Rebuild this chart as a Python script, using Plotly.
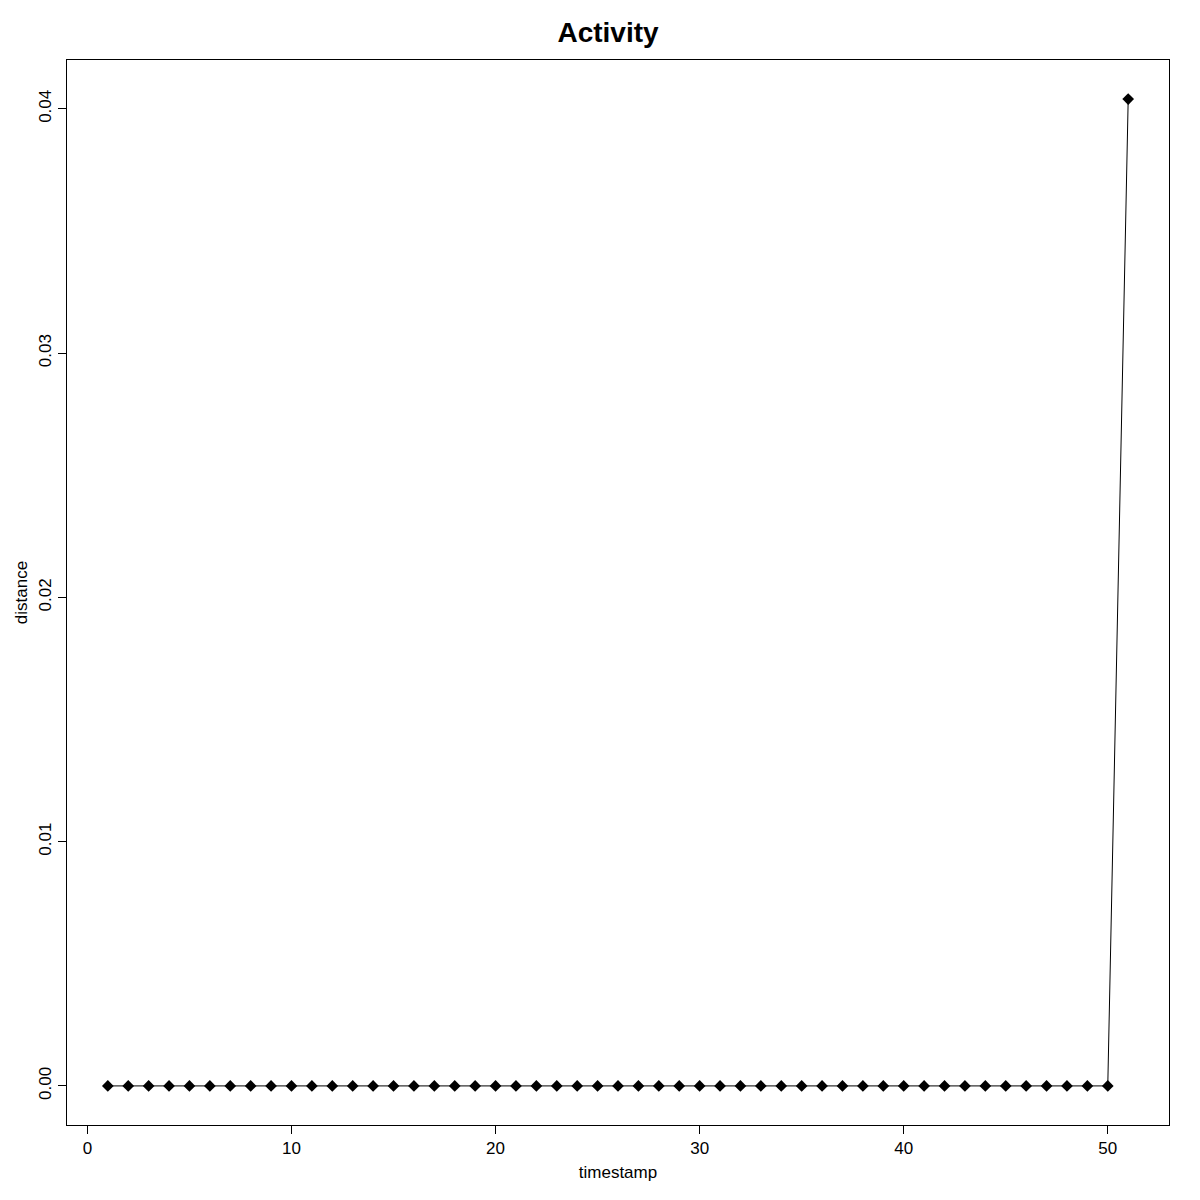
import plotly.graph_objects as go

# Activity data: timestamps 1..51, distance zero until the final jump
timestamp = list(range(1, 52))
distance = [0.0] * 50 + [0.0404]

fig = go.Figure()
fig.add_trace(go.Scatter(
    x=timestamp, y=distance, mode="lines+markers",
    line=dict(color="black", width=1),
    marker=dict(symbol="diamond", size=9, color="black"),
    showlegend=False,
))

font = dict(family="Liberation Sans, Arial, sans-serif", color="black")
fig.update_layout(
    width=1200, height=1200,
    margin=dict(l=51, r=39, t=52, b=83),
    paper_bgcolor="white", plot_bgcolor="white",
    font=dict(size=17, **font),
    title=dict(text="<b>Activity</b>", x=0.5, xanchor="center",
               yref="container", y=0.988, yanchor="top",
               font=dict(size=28, **font)),
    xaxis=dict(range=[-1, 53], tickvals=[0, 10, 20, 30, 40, 50],
               showgrid=False, zeroline=False, showline=True, mirror=True,
               linecolor="black", linewidth=1, ticks="outside", ticklen=8,
               tickcolor="black", title=dict(text="timestamp", standoff=8,
                                             font=dict(size=17, **font))),
    yaxis=dict(range=[-0.0016, 0.042],
               tickvals=[0, 0.01, 0.02, 0.03, 0.04],
               ticktext=["0.00", "0.01", "0.02", "0.03", "0.04"],
               tickangle=-90,
               showgrid=False, zeroline=False, showline=True, mirror=True,
               linecolor="black", linewidth=1, ticks="outside", ticklen=8,
               tickcolor="black", title=dict(text="distance", standoff=4,
                                             font=dict(size=17, **font))),
)

fig.write_html("out.html")
